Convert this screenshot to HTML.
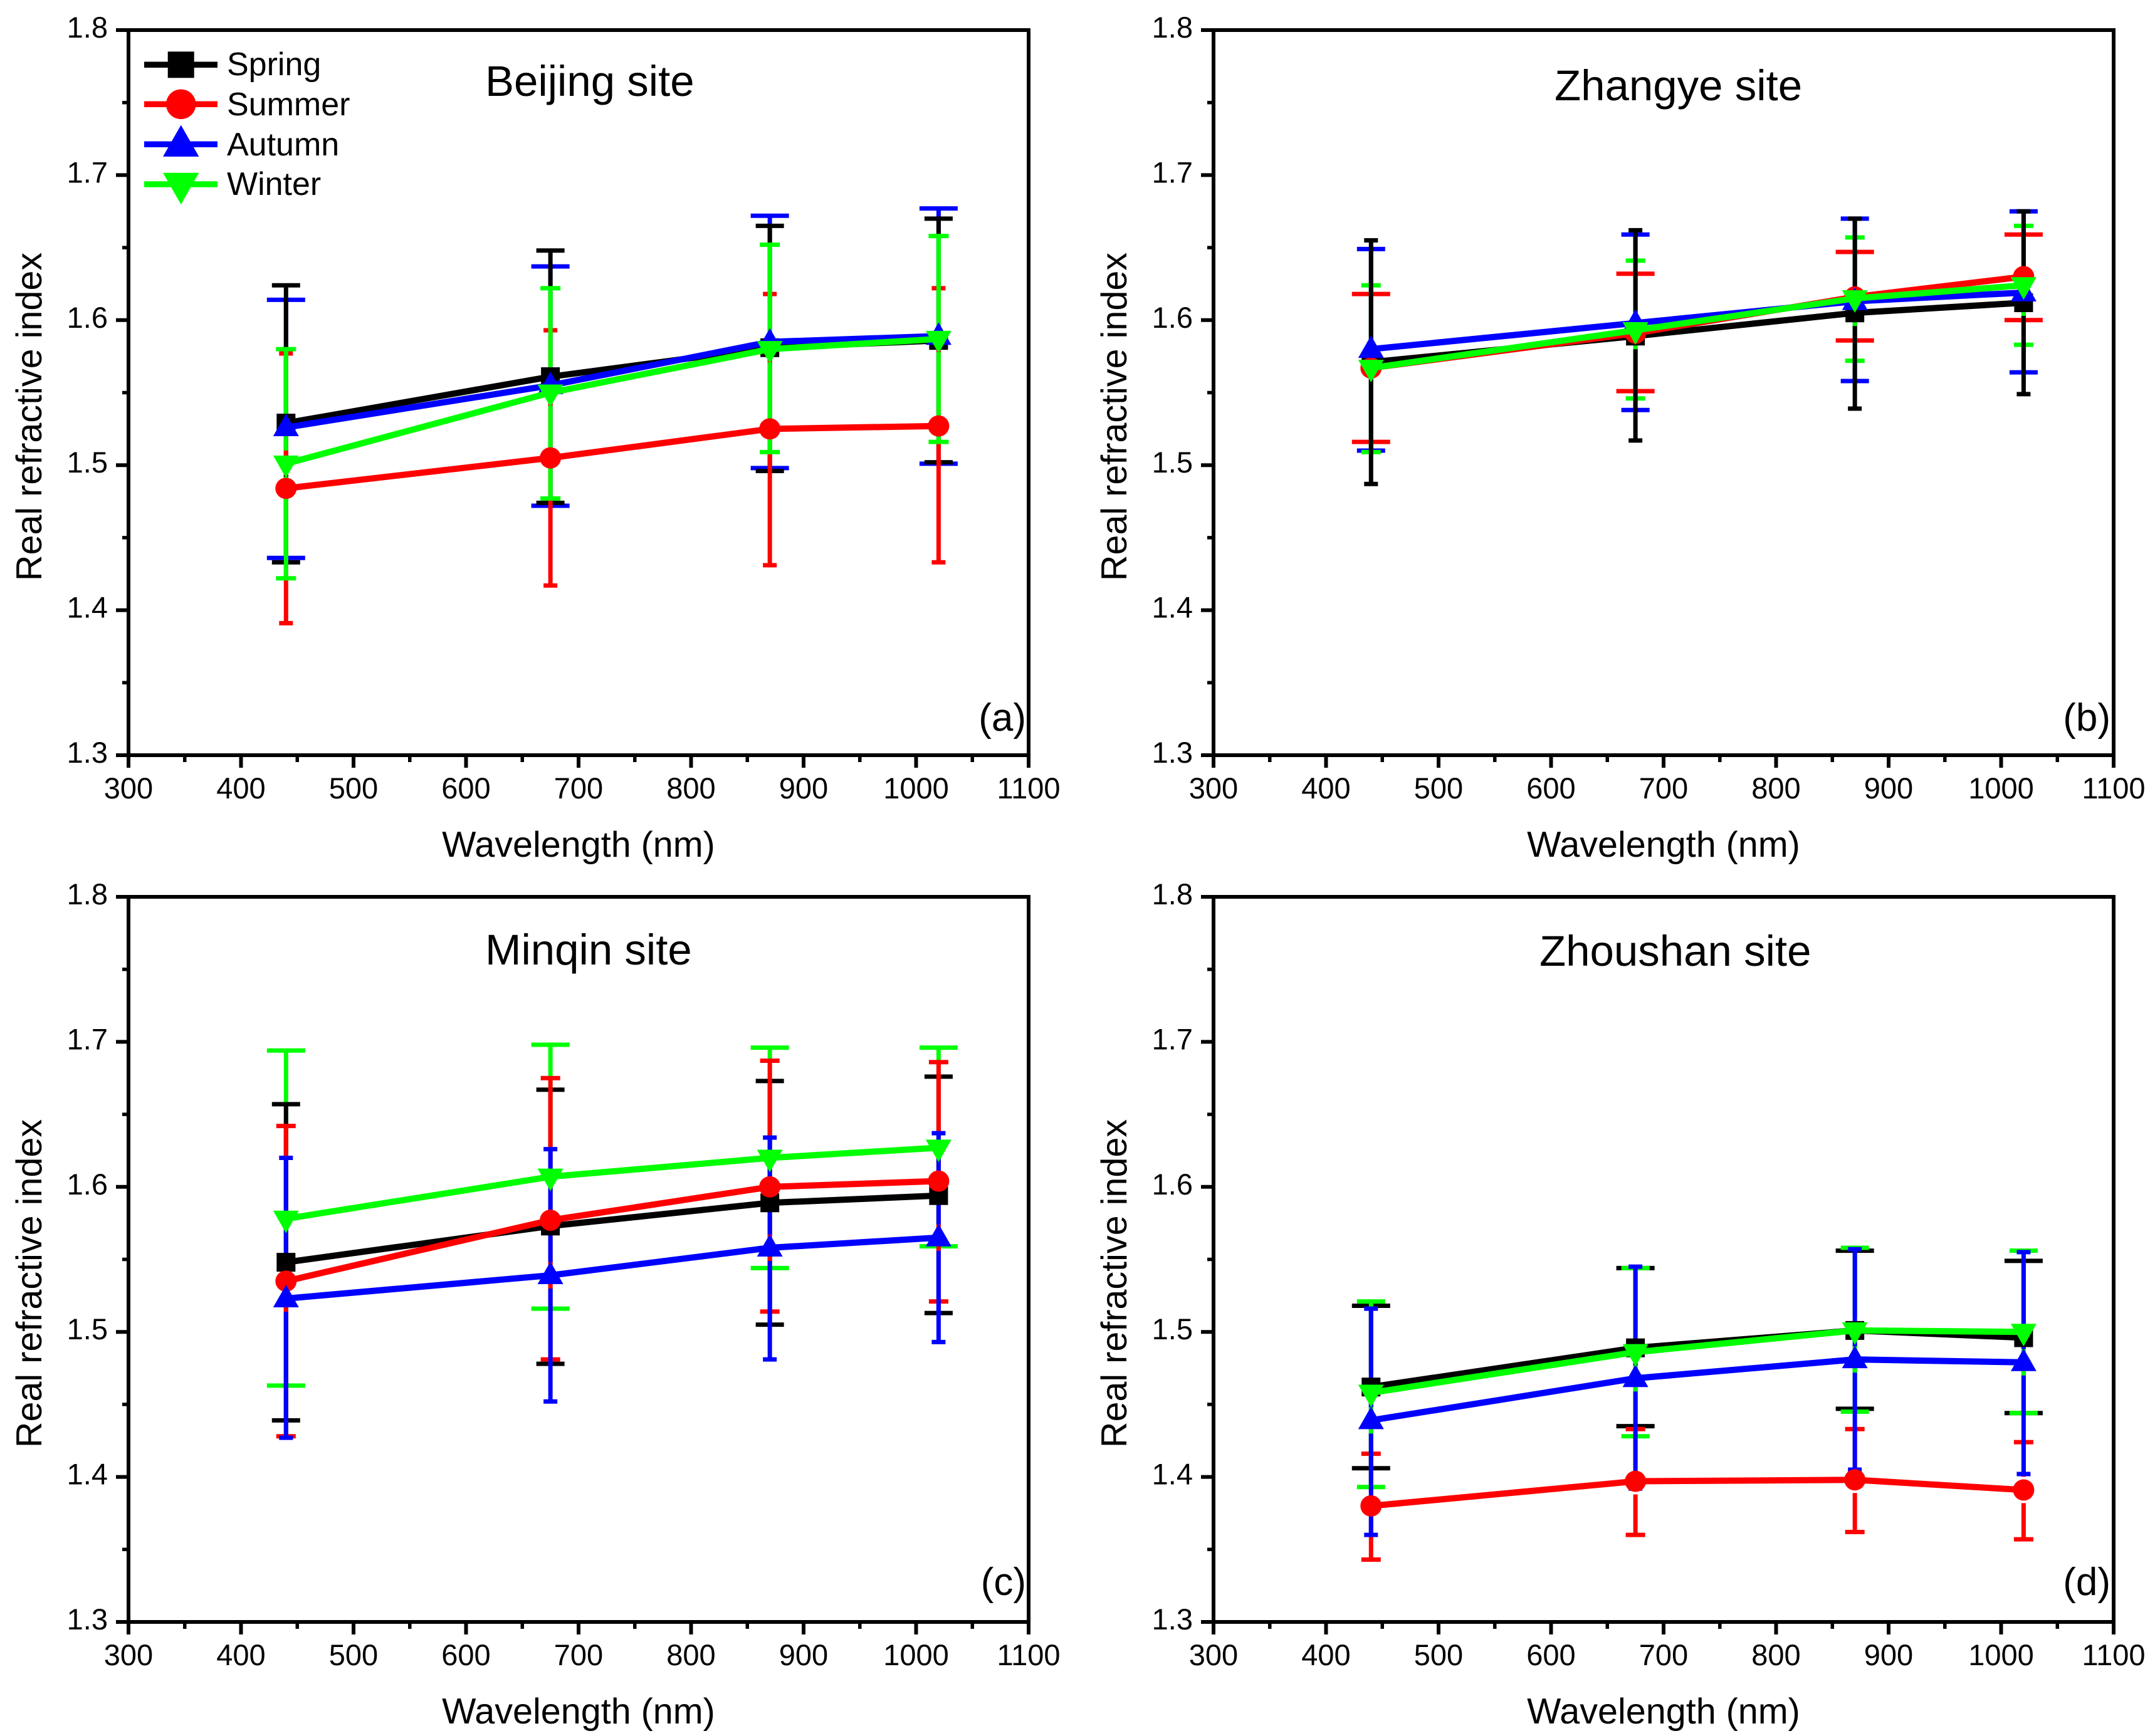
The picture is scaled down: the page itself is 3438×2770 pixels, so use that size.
<!DOCTYPE html>
<html lang="en">
<head>
<meta charset="utf-8">
<title>Real refractive index by wavelength and season</title>
<style>
  html, body { margin: 0; padding: 0; background: #fff; }
  svg { display: block; font-family: "Liberation Sans", Arial, sans-serif; fill: #000; }
  .tick { font-size: 47px; }
  .axis-title { font-size: 57.5px; }
  .site { font-size: 69px; }
  .panel-tag { font-size: 62px; }
  .legend-label { font-size: 52px; }
</style>
</head>
<body>
<svg id="chart" xmlns="http://www.w3.org/2000/svg" width="3438" height="2770" viewBox="0 0 3438 2770">
  <rect x="0" y="0" width="3438" height="2770" fill="#fff"/>
  <g id="panel-a"></g>
  <g id="panel-b"></g>
  <g id="panel-c"></g>
  <g id="panel-d"></g>

  <text class="site" x="774" y="153">Beijing site</text>
  <text class="site" x="2480" y="160">Zhangye site</text>
  <text class="site" x="774" y="1539">Minqin site</text>
  <text class="site" x="2456" y="1541">Zhoushan site</text>

  <text class="panel-tag" x="1637" y="1166" text-anchor="end">(a)</text>
  <text class="panel-tag" x="3367" y="1166" text-anchor="end">(b)</text>
  <text class="panel-tag" x="1637" y="2545" text-anchor="end">(c)</text>
  <text class="panel-tag" x="3367" y="2545" text-anchor="end">(d)</text>

  <text class="axis-title" x="923" y="1367" text-anchor="middle">Wavelength (nm)</text>
  <text class="axis-title" x="2654" y="1367" text-anchor="middle">Wavelength (nm)</text>
  <text class="axis-title" x="923" y="2750" text-anchor="middle">Wavelength (nm)</text>
  <text class="axis-title" x="2654" y="2750" text-anchor="middle">Wavelength (nm)</text>

  <text class="axis-title" text-anchor="middle" transform="translate(66 665) rotate(-90)">Real refractive index</text>
  <text class="axis-title" text-anchor="middle" transform="translate(1797 665) rotate(-90)">Real refractive index</text>
  <text class="axis-title" text-anchor="middle" transform="translate(66 2048) rotate(-90)">Real refractive index</text>
  <text class="axis-title" text-anchor="middle" transform="translate(1797 2048) rotate(-90)">Real refractive index</text>

  <g id="legend">
    <text class="legend-label" x="362" y="120">Spring</text>
    <text class="legend-label" x="362" y="184">Summer</text>
    <text class="legend-label" x="362" y="248">Autumn</text>
    <text class="legend-label" x="362" y="311">Winter</text>
  </g>
</svg>

<script>
// ---- shared axis data ----
const wavelengths = [440, 675, 870, 1020];
const xTickLabels = [300, 400, 500, 600, 700, 800, 900, 1000, 1100];
const xMinorTicks = [350, 450, 550, 650, 750, 850, 950, 1050];
const yTickLabels = ['1.3', '1.4', '1.5', '1.6', '1.7', '1.8'];
const yMinorTicks = [1.35, 1.45, 1.55, 1.65, 1.75];
const seasonNames = ['Spring', 'Summer', 'Autumn', 'Winter'];
const seasonColors = ['#000000', '#ff0000', '#0000ff', '#00ff00'];

// ---- (a) Beijing ----
const beijingSpringMean = [1.529, 1.561, 1.581, 1.586];
const beijingSummerMean = [1.484, 1.505, 1.525, 1.527];
const beijingAutumnMean = [1.526, 1.555, 1.585, 1.589];
const beijingWinterMean = [1.501, 1.550, 1.580, 1.587];
const beijingSpringHigh = [1.624, 1.648, 1.665, 1.670];
const beijingSummerHigh = [1.577, 1.593, 1.618, 1.622];
const beijingAutumnHigh = [1.614, 1.637, 1.672, 1.677];
const beijingWinterHigh = [1.580, 1.622, 1.652, 1.658];
const beijingSpringLow = [1.433, 1.474, 1.496, 1.502];
const beijingSummerLow = [1.391, 1.417, 1.431, 1.433];
const beijingAutumnLow = [1.436, 1.472, 1.498, 1.501];
const beijingWinterLow = [1.422, 1.477, 1.509, 1.516];

// ---- (b) Zhangye ----
const zhangyeSpringMean = [1.571, 1.589, 1.605, 1.612];
const zhangyeSummerMean = [1.567, 1.591, 1.616, 1.630];
const zhangyeAutumnMean = [1.580, 1.598, 1.613, 1.619];
const zhangyeWinterMean = [1.567, 1.593, 1.615, 1.624];
const zhangyeSpringHigh = [1.655, 1.662, 1.670, 1.675];
const zhangyeSummerHigh = [1.618, 1.632, 1.647, 1.659];
const zhangyeAutumnHigh = [1.649, 1.659, 1.670, 1.675];
const zhangyeWinterHigh = [1.624, 1.641, 1.657, 1.665];
const zhangyeSpringLow = [1.487, 1.517, 1.539, 1.549];
const zhangyeSummerLow = [1.516, 1.551, 1.586, 1.600];
const zhangyeAutumnLow = [1.510, 1.538, 1.558, 1.564];
const zhangyeWinterLow = [1.509, 1.546, 1.572, 1.583];

// ---- (c) Minqin ----
const minqinSpringMean = [1.548, 1.573, 1.589, 1.594];
const minqinSummerMean = [1.535, 1.577, 1.600, 1.604];
const minqinAutumnMean = [1.523, 1.539, 1.558, 1.565];
const minqinWinterMean = [1.578, 1.607, 1.620, 1.627];
const minqinSpringHigh = [1.657, 1.667, 1.673, 1.676];
const minqinSummerHigh = [1.642, 1.675, 1.687, 1.686];
const minqinAutumnHigh = [1.620, 1.626, 1.634, 1.637];
const minqinWinterHigh = [1.694, 1.698, 1.696, 1.696];
const minqinSpringLow = [1.439, 1.478, 1.505, 1.513];
const minqinSummerLow = [1.428, 1.481, 1.514, 1.521];
const minqinAutumnLow = [1.427, 1.452, 1.481, 1.493];
const minqinWinterLow = [1.463, 1.516, 1.544, 1.559];

// ---- (d) Zhoushan ----
const zhoushanSpringMean = [1.462, 1.489, 1.501, 1.496];
const zhoushanSummerMean = [1.380, 1.397, 1.398, 1.391];
const zhoushanAutumnMean = [1.439, 1.468, 1.481, 1.479];
const zhoushanWinterMean = [1.458, 1.486, 1.501, 1.500];
const zhoushanSpringHigh = [1.518, 1.544, 1.556, 1.549];
const zhoushanSummerHigh = [1.416, 1.433, 1.433, 1.424];
const zhoushanAutumnHigh = [1.516, 1.545, 1.557, 1.555];
const zhoushanWinterHigh = [1.521, 1.544, 1.558, 1.556];
const zhoushanSpringLow = [1.406, 1.435, 1.447, 1.444];
const zhoushanSummerLow = [1.343, 1.360, 1.362, 1.357];
const zhoushanAutumnLow = [1.360, 1.392, 1.405, 1.402];
const zhoushanWinterLow = [1.393, 1.428, 1.445, 1.444];

// ---- geometry and drawing (no data below) ----
const NS = 'http://www.w3.org/2000/svg';
const PLOT_W = 1436, PLOT_H = 1157;
const X_MIN = 300, X_MAX = 1100, Y_MIN = 1.3, Y_MAX = 1.8;
const MARKER_GAP = 21;

function make(parent, tag, attrs, name) {
  const el = document.createElementNS(NS, tag);
  for (const k in attrs) el.setAttribute(k, attrs[k]);
  
  
  parent.appendChild(el);
  return el;
}

function drawMarker(g, kind, cx, cy, color, scale, name) {
  const s = scale;
  if (kind === 0) {
    make(g, 'rect', { x: cx - 15 * s, y: cy - 15 * s, width: 30 * s, height: 30 * s, fill: color }, name);
  } else if (kind === 1) {
    make(g, 'circle', { cx: cx, cy: cy, r: 17 * s, fill: color }, name);
  } else if (kind === 2) {
    make(g, 'polygon', { points: [cx, cy - 22 * s, cx + 20.5 * s, cy + 14 * s, cx - 20.5 * s, cy + 14 * s].join(' '), fill: color }, name);
  } else {
    make(g, 'polygon', { points: [cx, cy + 23 * s, cx + 20.5 * s, cy - 13 * s, cx - 20.5 * s, cy - 13 * s].join(' '), fill: color }, name);
  }
}

function drawPanel(id, left, top, means, highs, lows, barOrder, capWidths) {
  const g = document.getElementById(id);
  const xScale = v => left + (v - X_MIN) / (X_MAX - X_MIN) * PLOT_W;
  const yScale = v => top + (Y_MAX - v) / (Y_MAX - Y_MIN) * PLOT_H;
  const bottom = top + PLOT_H, right = left + PLOT_W;

  // ticks
  xTickLabels.forEach(t => {
    const x = xScale(t);
    make(g, 'line', { x1: x, x2: x, y1: bottom, y2: bottom + 20, stroke: '#000', 'stroke-width': 6 }, 'x-major-tick');
    const lab = make(g, 'text', { x: x, y: bottom + 69, 'text-anchor': 'middle', class: 'tick' }, 'x-tick-label');
    lab.textContent = t;
  });
  xMinorTicks.forEach(t => {
    const x = xScale(t);
    make(g, 'line', { x1: x, x2: x, y1: bottom, y2: bottom + 11, stroke: '#000', 'stroke-width': 5.5 }, 'x-minor-tick');
  });
  yTickLabels.forEach(t => {
    const y = yScale(parseFloat(t));
    make(g, 'line', { x1: left - 20, x2: left, y1: y, y2: y, stroke: '#000', 'stroke-width': 6 }, 'y-major-tick');
    const lab = make(g, 'text', { x: left - 33, y: y + 12, 'text-anchor': 'end', class: 'tick' }, 'y-tick-label');
    lab.textContent = t;
  });
  yMinorTicks.forEach(t => {
    const y = yScale(t);
    make(g, 'line', { x1: left - 10, x2: left, y1: y, y2: y, stroke: '#000', 'stroke-width': 5.5 }, 'y-minor-tick');
  });

  // frame
  make(g, 'line', { x1: left - 20, x2: right + 3, y1: top, y2: top, stroke: '#000', 'stroke-width': 6 }, 'plot-top-border');
  make(g, 'line', { x1: left - 20, x2: right + 3, y1: bottom, y2: bottom, stroke: '#000', 'stroke-width': 6 }, 'plot-bottom-border');
  make(g, 'line', { x1: left, x2: left, y1: top, y2: bottom + 20, stroke: '#000', 'stroke-width': 6 }, 'plot-left-border');
  make(g, 'line', { x1: right, x2: right, y1: top, y2: bottom + 20, stroke: '#000', 'stroke-width': 6 }, 'plot-right-border');

  // error bars (broken around the own marker)
  barOrder.forEach((s, rank) => {
    const color = seasonColors[s];
    const cap = capWidths[rank];
    const label = seasonNames[s].toLowerCase();
    wavelengths.forEach((w, i) => {
      const x = xScale(w), yM = yScale(means[s][i]), yH = yScale(highs[s][i]), yL = yScale(lows[s][i]);
      if (yM - MARKER_GAP > yH) make(g, 'line', { x1: x, x2: x, y1: yH, y2: yM - MARKER_GAP, stroke: color, 'stroke-width': 7 }, 'error-bar-upper-' + label);
      if (yM + MARKER_GAP < yL) make(g, 'line', { x1: x, x2: x, y1: yM + MARKER_GAP, y2: yL, stroke: color, 'stroke-width': 7 }, 'error-bar-lower-' + label);
      make(g, 'line', { x1: x - cap / 2, x2: x + cap / 2, y1: yH, y2: yH, stroke: color, 'stroke-width': 7 }, 'error-cap-upper-' + label);
      make(g, 'line', { x1: x - cap / 2, x2: x + cap / 2, y1: yL, y2: yL, stroke: color, 'stroke-width': 7 }, 'error-cap-lower-' + label);
    });
  });

  // lines + markers
  seasonNames.forEach((name, s) => {
    const label = name.toLowerCase();
    const pts = wavelengths.map((w, i) => xScale(w) + ',' + yScale(means[s][i])).join(' ');
    make(g, 'polyline', { points: pts, fill: 'none', stroke: seasonColors[s], 'stroke-width': 10, 'stroke-linejoin': 'miter' }, 'line-' + label);
    wavelengths.forEach((w, i) => {
      drawMarker(g, s, xScale(w), yScale(means[s][i]), seasonColors[s], 1, 'marker-' + label);
    });
  });
}

const LEFT_COL = 205, RIGHT_COL = 1936, TOP_ROW = 48, BOTTOM_ROW = 1431;
drawPanel('panel-a', LEFT_COL, TOP_ROW,
  [beijingSpringMean, beijingSummerMean, beijingAutumnMean, beijingWinterMean],
  [beijingSpringHigh, beijingSummerHigh, beijingAutumnHigh, beijingWinterHigh],
  [beijingSpringLow, beijingSummerLow, beijingAutumnLow, beijingWinterLow],
  [2, 0, 1, 3], [61, 45, 22, 32]);
drawPanel('panel-b', RIGHT_COL, TOP_ROW,
  [zhangyeSpringMean, zhangyeSummerMean, zhangyeAutumnMean, zhangyeWinterMean],
  [zhangyeSpringHigh, zhangyeSummerHigh, zhangyeAutumnHigh, zhangyeWinterHigh],
  [zhangyeSpringLow, zhangyeSummerLow, zhangyeAutumnLow, zhangyeWinterLow],
  [1, 2, 3, 0], [61, 45, 31, 22]);
drawPanel('panel-c', LEFT_COL, BOTTOM_ROW,
  [minqinSpringMean, minqinSummerMean, minqinAutumnMean, minqinWinterMean],
  [minqinSpringHigh, minqinSummerHigh, minqinAutumnHigh, minqinWinterHigh],
  [minqinSpringLow, minqinSummerLow, minqinAutumnLow, minqinWinterLow],
  [3, 0, 1, 2], [61, 45, 31, 22]);
drawPanel('panel-d', RIGHT_COL, BOTTOM_ROW,
  [zhoushanSpringMean, zhoushanSummerMean, zhoushanAutumnMean, zhoushanWinterMean],
  [zhoushanSpringHigh, zhoushanSummerHigh, zhoushanAutumnHigh, zhoushanWinterHigh],
  [zhoushanSpringLow, zhoushanSummerLow, zhoushanAutumnLow, zhoushanWinterLow],
  [0, 1, 3, 2], [61, 31, 45, 22]);

// legend keys
const legendGroup = document.getElementById('legend');
const LEGEND_ROW_Y = [103.3, 166.3, 230.3, 294];
seasonNames.forEach((name, s) => {
  const label = name.toLowerCase();
  const y = LEGEND_ROW_Y[s];
  make(legendGroup, 'line', { x1: 230, x2: 347, y1: y, y2: y, stroke: seasonColors[s], 'stroke-width': 9.5 }, 'legend-line-' + label);
  drawMarker(legendGroup, s, 288.7, y, seasonColors[s], 1.4, 'legend-marker-' + label);
});
</script>
</body>
</html>
